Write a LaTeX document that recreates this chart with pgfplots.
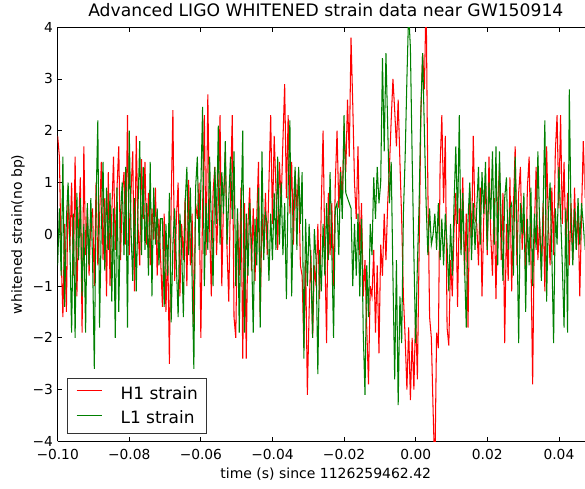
\documentclass[border=0pt]{standalone}
\usepackage{fontspec}
\setmainfont{DejaVu Sans}
\usepackage{pgfplots}
\usepackage{pgfplotstable}
\pgfplotsset{compat=1.18}
% columns: sample index (0.0004877 s per sample, index 0 = -0.10 s), H1, L1
\pgfplotstableread{
k h l
0 1.9 -0.6
1 1.5 0.5
2 -0.4 -0.8
3 -1.6 1.5
4 0.2 -1.4
5 -1.5 0.3
6 0.9 1.0
7 -0.3 -0.2
8 1.0 -1.9
9 -0.8 0.4
10 1.5 -2.0
11 -1.2 0.8
12 0.2 -0.5
13 1.1 0.7
14 -1.9 -1.2
15 1.7 0.2
16 -0.4 -1.9
17 0.5 0.6
18 -0.8 -0.6
19 0.3 0.7
20 0.5 -0.5
21 -1.0 -2.6
22 1.0 0.6
23 -0.6 2.2
24 0.3 -1.8
25 1.4 0.2
26 -0.5 1.4
27 0.7 -0.7
28 -1.2 0.9
29 1.2 -0.3
30 -1.0 0.8
31 0.4 -1.3
32 1.5 0.5
33 -0.3 -2.0
34 0.9 0.9
35 1.7 -1.5
36 -0.5 0.4
37 0.8 1.0
38 1.2 -0.4
39 -0.2 1.3
40 2.3 -1.8
41 -0.4 2.0
42 0.8 0.1
43 1.6 -0.9
44 -1.1 0.7
45 1.9 -1.1
46 0.2 0.5
47 -0.6 1.8
48 1.45 -0.4
49 0.3 1.3
50 1.4 -0.3
51 -0.2 0.6
52 0.8 -0.8
53 -0.6 1.4
54 0.5 -1.2
55 -0.1 0.9
56 0.9 -0.2
57 -0.8 0.5
58 0.3 -0.6
59 -0.5 0.3
60 -1.4 0.3
61 0.4 -1.4
62 -1.5 0.2
63 -0.2 -0.8
64 -2.5 0.8
65 0.6 -1.7
66 2.4 -0.2
67 -0.9 0.5
68 0.3 -0.6
69 1.0 -1.6
70 -1.2 0.4
71 0.2 -0.3
72 -0.5 -1.6
73 0.7 0.6
74 -1.0 1.3
75 1.05 -0.4
76 -0.6 0.9
77 0.4 -0.9
78 -1.8 -2.6
79 0.6 0.9
80 0.3 1.5
81 1.0 -0.3
82 -2.0 0.9
83 0.5 2.46
84 2.3 -1.0
85 -0.4 0.6
86 2.7 -0.3
87 0.2 1.5
88 -1.2 0.2
89 0.8 -1.0
90 1.3 1.3
91 -0.4 0.2
92 0.6 2.1
93 2.3 -0.2
94 -1.0 1.2
95 0.7 0.4
96 1.6 1.8
97 -0.3 -0.2
98 -1.3 0.7
99 0.9 1.5
100 2.3 0.3
101 -1.6 1.6
102 -2.0 -1.0
103 0.4 0.5
104 -0.8 -1.9
105 0.9 0.3
106 -2.4 2.0
107 0.6 -1.9
108 -2.4 0.4
109 0.2 -0.8
110 0.9 0.6
111 -0.7 -0.2
112 0.5 -1.9
113 -0.9 0.3
114 0.3 -0.6
115 1.4 0.9
116 -1.6 -1.8
117 0.4 1.6
118 -0.3 -0.5
119 0.8 0.4
120 -0.4 0.2
121 1.0 -0.9
122 2.3 0.4
123 0.2 -0.5
124 1.9 0.8
125 0.9 -0.3
126 -0.3 1.5
127 1.4 -0.2
128 0.6 1.0
129 1.8 -0.4
130 2.9 0.6
131 0.7 -1.25
132 2.3 0.9
133 0.4 2.2
134 1.4 -1.2
135 -0.2 0.5
136 1.2 1.3
137 0.5 -0.3
138 1.2 1.3
139 -0.6 0.2
140 -0.8 1.2
141 -2.2 -2.4
142 -0.5 0.3
143 -3.1 -1.0
144 -1.5 0.2
145 -0.3 -0.6
146 -2.0 -2.0
147 -0.6 0.1
148 -1.0 -0.5
149 0.2 -2.7
150 -1.25 -0.3
151 0.6 -1.1
152 2.0 0.2
153 -0.3 -0.8
154 -2.1 0.6
155 0.8 -0.5
156 -0.4 1.2
157 0.6 -0.3
158 -1.0 -2.0
159 1.0 0.5
160 2.0 0.6
161 0.5 -0.4
162 1.3 1.2
163 0.6 0.3
164 2.1 2.3
165 1.2 0.8
166 2.6 0.7
167 1.5 0.6
168 3.8 0.5
169 2.5 -1.0
170 1.0 0.2
171 0.3 -0.8
172 1.7 0.4
173 -0.4 -1.2
174 0.6 0.3
175 -1.2 -1.9
176 -0.5 -3.1
177 -1.8 -0.6
178 -2.9 -1.6
179 -1.0 0.2
180 -1.2 -0.4
181 -0.3 1.1
182 -1.9 0.3
183 -0.6 1.3
184 -2.3 0.6
185 -0.2 1.0
186 -0.8 3.4
187 0.4 1.6
188 -0.5 3.5
189 0.6 2.1
190 1.3 0.6
191 2.2 1.4
192 3.0 -0.8
193 2.4 -2.8
194 1.7 -0.5
195 2.6 -3.3
196 1.4 -1.2
197 0.3 -2.1
198 -1.2 0.4
199 -2.0 1.5
200 -3.0 3.0
201 -1.8 4.3
202 -3.2 3.6
203 -2.0 1.5
204 -3.0 -0.4
205 -1.5 -2.1
206 -2.8 -0.6
207 -0.3 0.6
208 2.3 2.4
209 3.5 3.5
210 2.8 2.0
211 4.6 0.6
212 0.9 -0.4
213 -1.6 0.5
214 -2.0 -0.2
215 -3.4 0.0
216 -4.6 0.4
217 -1.9 -0.3
218 -2.2 0.6
219 1.3 -0.5
220 2.3 0.3
221 0.6 -0.6
222 1.9 0.4
223 -1.8 -0.2
224 -2.15 -1.1
225 -0.5 0.2
226 -1.2 -0.8
227 0.1 0.6
228 0.8 1.7
229 -1.4 0.2
230 0.5 2.3
231 -0.3 -0.4
232 1.1 0.8
233 -0.8 -0.6
234 0.4 -1.8
235 -1.8 0.3
236 0.9 1.0
237 -0.2 -0.5
238 1.9 0.6
239 0.3 -0.3
240 0.2 0.5
241 -0.6 1.3
242 0.9 -0.2
243 -1.2 1.2
244 0.3 0.4
245 1.0 1.4
246 -0.4 -0.3
247 1.5 1.0
248 0.0 0.3
249 -0.8 1.6
250 0.7 -0.2
251 -1.25 1.7
252 0.6 -0.6
253 1.3 1.6
254 -0.5 0.2
255 0.8 -0.9
256 -2.1 0.7
257 0.2 1.1
258 -0.9 -0.3
259 1.1 0.5
260 -1.1 0.6
261 0.5 -0.8
262 1.7 1.5
263 -0.6 0.1
264 0.8 -2.1
265 1.3 0.6
266 -0.3 0.0
267 0.4 0.8
268 -0.8 -1.5
269 0.9 0.3
270 1.5 -0.6
271 -0.4 0.9
272 -2.9 -1.0
273 0.1 0.4
274 1.3 -0.3
275 -0.5 1.6
276 0.3 0.2
277 -0.7 -0.9
278 0.6 0.5
279 -1.1 2.2
280 1.7 -1.3
281 0.2 0.4
282 -0.6 1.0
283 0.9 -0.4
284 -0.4 -2.1
285 1.6 0.5
286 2.3 -0.2
287 0.5 1.3
288 2.3 0.4
289 0.2 -0.6
290 1.4 -1.8
291 -0.3 0.5
292 0.8 -1.9
293 -0.6 2.8
294 0.6 0.3
295 -0.5 -0.6
296 0.9 0.5
297 -0.3 -0.3
298 0.5 0.7
299 -1.2 -0.2
300 0.4 0.6
301 1.8 0.2
302 0.7 -0.3
}\strain
\begin{document}
\begin{tikzpicture}
\begin{axis}[
  anchor=south west, at={(0pt,0pt)},
  scale only axis, width=527.3pt, height=414.6pt,
  xmin=0, xmax=301.7, ymin=-4, ymax=4,
  axis x line*=box, axis y line*=left,
  axis line style={line width=1pt, black},
  tick align=inside, major tick length=4.5pt,
  every tick/.style={black, line width=0.8pt},
  xtick={0,41.01,82.02,123.02,164.03,205.04,246.05,287.06},
  xticklabels={−0.10,−0.08,−0.06,−0.04,−0.02,0.00,0.02,0.04},
  ytick={-4,-3,-2,-1,0,1,2,3,4},
  yticklabels={−4,−3,−2,−1,0,1,2,3,4},
  minor tick num=0,
  tick label style={font=\fontsize{13.8}{16}\selectfont, black, inner sep=1.5pt},
  xticklabel style={yshift=-6.3pt},
  yticklabel style={xshift=-3pt},
  label style={font=\fontsize{14}{16}\selectfont},
  xlabel={time (s) since 1126259462.42},
  xlabel style={at={(axis description cs:0.509,-0.0789)}, anchor=center},
  ylabel={whitened strain(no bp)},
  ylabel style={at={(axis description cs:-0.0753,0.5)}, anchor=center},
  title={Advanced LIGO WHITENED strain data near GW150914},
  title style={at={(axis description cs:0.509,1.0116)}, anchor=base, font=\fontsize{17.2}{20}\selectfont},
  legend style={at={(axis description cs:0.0171,0.0193)}, anchor=south west,
    draw=black!80, line width=0.9pt, font=\fontsize{17}{20}\selectfont,
    inner xsep=9pt, inner ysep=9pt, row sep=12pt,
    nodes={inner sep=0pt, text height=12.4pt, text depth=0pt},
    /tikz/every odd column/.append style={column sep=18.4pt}},
  legend cell align=left,
  legend image code/.code={\draw[#1, line width=1.1pt] (0pt,0.5ex) -- (25pt,0.5ex);},
  clip=true,
]
\addplot[red, line width=1.05pt] table[x=k, y=h] {\strain};
\addlegendentry{H1 strain}
\addplot[green!50!black, line width=1.05pt] table[x=k, y=l] {\strain};
\addlegendentry{L1 strain}
\end{axis}
\path[use as bounding box] (-57.7pt,-46.7pt) rectangle (527.3pt,437.3pt);
\end{tikzpicture}
\end{document}
